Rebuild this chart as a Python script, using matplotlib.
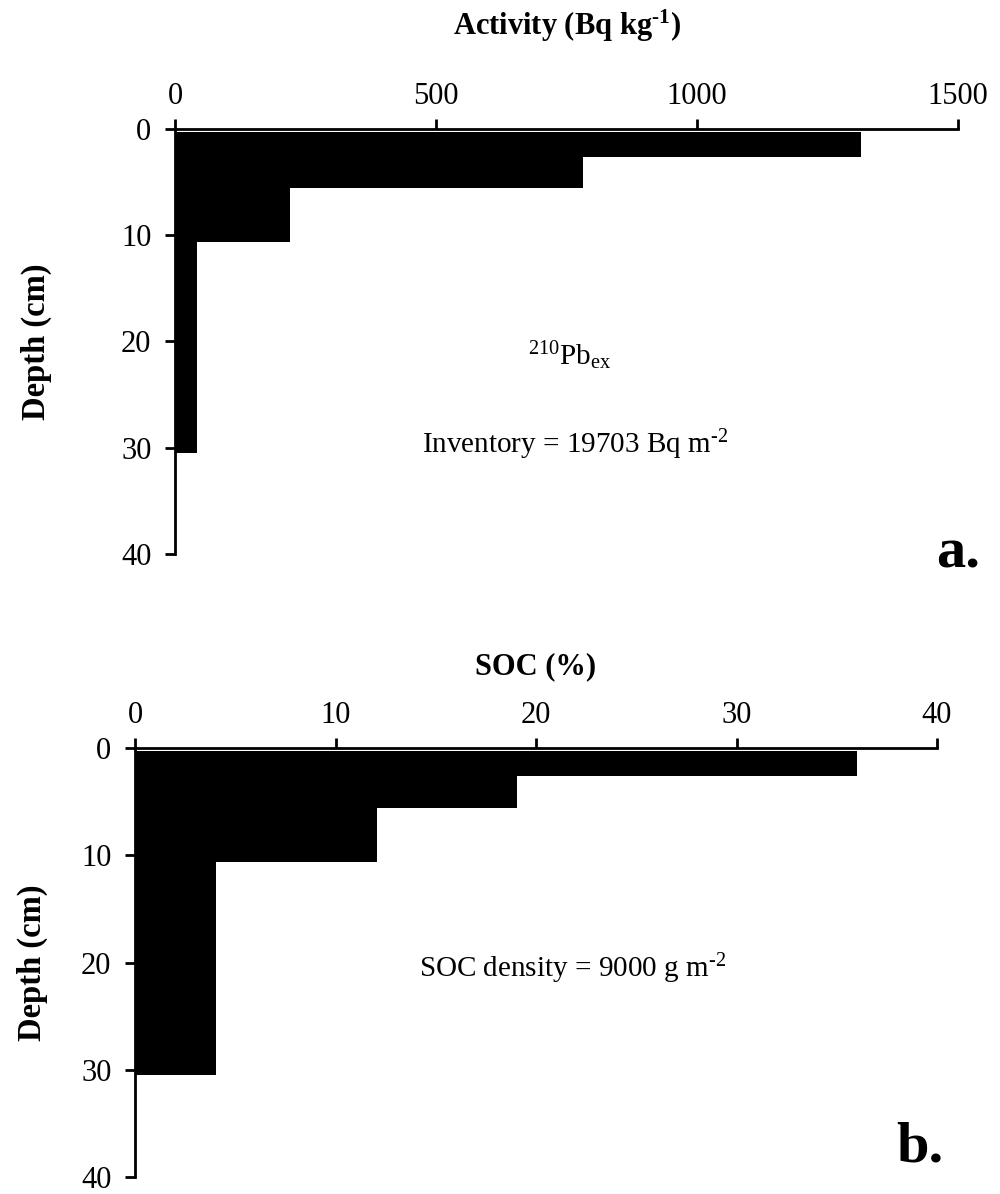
import matplotlib
matplotlib.use("Agg")
import matplotlib.pyplot as plt

plt.rcParams['font.family'] = ['Liberation Serif', 'DejaVu Serif']
plt.rcParams['mathtext.fontset'] = 'custom'
plt.rcParams['mathtext.rm'] = 'Liberation Serif'
plt.rcParams['mathtext.it'] = 'Liberation Serif:italic'
plt.rcParams['mathtext.bf'] = 'Liberation Serif:bold'

# depth intervals (cm)
depth_top = [0.25, 2.65, 5.55, 10.6]
depth_bottom = [2.65, 5.55, 10.6, 30.5]

# 210Pb_ex activity (Bq/kg)
activity = [1315, 781, 220, 42]
# soil organic carbon (%)
soc = [36.0, 19.05, 12.05, 4.05]

activity_ticks = [0, 500, 1000, 1500]
soc_ticks = [0, 10, 20, 30, 40]
depth_ticks = [0, 10, 20, 30, 40]

fig = plt.figure(figsize=(10, 11.94), dpi=100)
ax1 = fig.add_axes([0.175, 0.536, 0.783, 0.356])
ax2 = fig.add_axes([0.135, 0.0142, 0.802, 0.3593])


def style(ax, xticks, xlabel, xlab_y, ylab_x):
    for s in ['right', 'bottom']:
        ax.spines[s].set_visible(False)
    for s in ['top', 'left']:
        ax.spines[s].set_linewidth(2)
    ax.xaxis.tick_top()
    ax.xaxis.set_label_position('top')
    ax.set_xticks(xticks)
    ax.set_yticks(depth_ticks)
    ax.set_xlim(xticks[0], xticks[-1])
    ax.set_ylim(40, 0)
    ax.tick_params(direction='out', length=7, width=2, labelsize=22)
    ax.tick_params(axis='y', pad=10)
    ax.tick_params(axis='x', pad=6)
    ax.set_xlabel(xlabel, fontsize=22, fontweight='bold')
    ax.set_ylabel('Depth (cm)', fontsize=23.5, fontweight='bold')
    ax.xaxis.set_label_coords(0.5, xlab_y)
    ax.yaxis.set_label_coords(ylab_x, 0.5)


def bars(ax, vals):
    heights = [b - t for t, b in zip(depth_top, depth_bottom)]
    ax.barh(depth_top, vals, height=heights, align='edge',
            color='black', linewidth=0)


bars(ax1, activity)
style(ax1, activity_ticks, r'Activity (Bq kg$^{\mathbf{\text{-}1}}$)',
      1.221, -0.157)
ax1.text(757, 21.3, r'$^{210}$Pb$_{\mathrm{ex}}$', fontsize=21,
         ha='center', va='center')
ax1.text(766, 29.7, r'Inventory = 19703 Bq m$^{\text{-}2}$', fontsize=21,
         ha='center', va='center')

bars(ax2, soc)
style(ax2, soc_ticks, 'SOC (%)', 1.172, -0.1085)
ax2.text(21.8, 20.6, r'SOC density = 9000 g m$^{\text{-}2}$', fontsize=21,
         ha='center', va='center')

fig.text(0.958, 1 - 553 / 1194, 'a.', fontsize=42, fontweight='bold',
         ha='center', va='center')
fig.text(0.92, 1 - 1148 / 1194, 'b.', fontsize=42, fontweight='bold',
         ha='center', va='center')

fig.savefig('out.png', dpi=100)
